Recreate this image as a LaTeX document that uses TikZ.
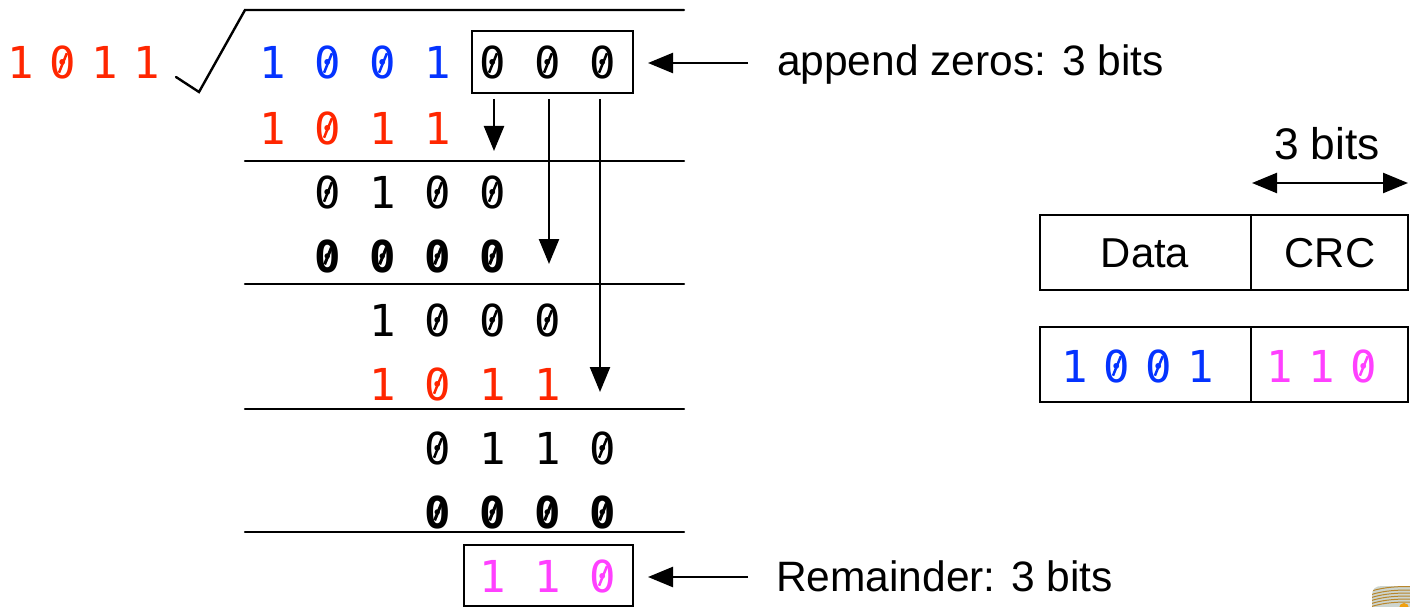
\documentclass[tikz,border=0pt]{standalone}
\usepackage{fontspec}
\setmainfont{Liberation Sans}
\newfontfamily\bitfont{DejaVu Sans Mono}
\usetikzlibrary{arrows.meta}
\definecolor{bitred}{HTML}{FF2600}
\definecolor{bitblue}{HTML}{0433FF}
\definecolor{bitpink}{HTML}{FF40FF}
\definecolor{iconbg}{HTML}{CDD5CF}
\definecolor{iconline}{HTML}{B8862B}
\definecolor{iconsun}{HTML}{F0A010}
% zero with a full slash through its counter, as in the reference's typeface
\newcommand\zs{\leavevmode\rlap{\hspace{13.25pt}\makebox[0pt][c]{\raisebox{16pt}{\smash{\rotatebox[origin=c]{68}{\rule[-1.25pt]{21pt}{2.5pt}}}}}}0}
\newcommand\zb{\leavevmode\rlap{\hspace{13.25pt}\makebox[0pt][c]{\raisebox{16pt}{\smash{\rotatebox[origin=c]{68}{\rule[-1.5pt]{18pt}{3pt}}}}}}0}
\tikzset{
  x=1pt,y=-1pt,
  bits/.style={inner sep=0pt,outer sep=0pt,anchor=base west,font=\fontsize{44}{46}\bitfont,execute at begin node={\spaceskip=28.5pt\relax}},
  boldbits/.style={bits,font=\fontsize{44}{46}\bitfont\bfseries},
  tightbits/.style={bits,execute at begin node={\spaceskip=15.4pt\relax}},
  label/.style={inner sep=0pt,outer sep=0pt,anchor=base west,font=\fontsize{42.5}{44}\selectfont},
  rule/.style={line width=2.4pt,line cap=round},
  frame/.style={draw,line width=2.4pt,inner sep=0pt,outer sep=0pt,anchor=north west},
  pointer/.style={line width=2.4pt,-{Triangle[length=25pt,width=20pt]}},
  twoway/.style={line width=2.4pt,{Triangle[length=25pt,width=20pt]}-{Triangle[length=25pt,width=20pt]}}
}
\begin{document}
\begin{tikzpicture}
\useasboundingbox (0,0) rectangle (1410,607);
% divisor and division sign
\node[tightbits,text=bitred] (divisor) at (7.75,79) {1 \zs{} 1 1};
\coordinate (sa) at (176,77);
\coordinate (sb) at (199,92);
\coordinate (sc) at (245,10);
\coordinate (sd) at (684,10);
\draw[rule,line join=miter] (sa) -- (sb) -- (sc) -- (sd);
% rows
\node[bits,text=bitblue] (r1) at (259.75,79) {1 \zs{} \zs{} 1};
\node[bits] (r1z) at (479.75,79) {\zs{} \zs{} \zs};
\node[bits,text=bitred] (r2) at (259.75,144) {1 \zs{} 1 1};
\node[bits] (r3) at (314.75,208) {\zs{} 1 \zs{} \zs};
\node[boldbits] (r4) at (314.75,272) {\zb{} \zb{} \zb{} \zb};
\node[bits] (r5) at (369.75,336) {1 \zs{} \zs{} \zs};
\node[bits,text=bitred] (r6) at (369.75,400) {1 \zs{} 1 1};
\node[bits] (r7) at (424.75,464) {\zs{} 1 1 \zs};
\node[boldbits] (r8) at (424.75,528) {\zb{} \zb{} \zb{} \zb};
\node[bits,text=bitpink] (r9) at (479.75,592) {1 1 \zs};
% rules
\foreach \n/\y in {a/161,b/284,c/409,d/532}{
  \coordinate (l\n) at (245,\y);
  \coordinate (m\n) at (684,\y);
  \draw[rule] (l\n) -- (m\n);
}
% boxes
\node[frame,minimum width=161pt,minimum height=62pt] (zbox) at (472,31) {};
\node[frame,minimum width=169pt,minimum height=61pt] (rbox) at (464,545) {};
% down arrows
\coordinate (a1s) at (494,99); \coordinate (a1e) at (494,151);
\coordinate (a2s) at (549,99); \coordinate (a2e) at (549,264);
\coordinate (a3s) at (600,99); \coordinate (a3e) at (600,392);
\draw[pointer] (a1s) -- (a1e);
\draw[pointer] (a2s) -- (a2e);
\draw[pointer] (a3s) -- (a3e);
% labels and their arrows
\node[label] (lz) at (777,76) {append zeros: 3 bits};
\node[label] (lr) at (776,591) {Remainder: 3 bits};
\coordinate (pz) at (748,63); \coordinate (pze) at (648,63);
\coordinate (pr) at (748,577); \coordinate (pre) at (648,577);
\draw[pointer] (pz) -- (pze);
\draw[pointer] (pr) -- (pre);
% frame layout
\node[label,font=\fontsize{44.3}{46}\selectfont] (three) at (1274,159) {3 bits};
\coordinate (wl) at (1252,183); \coordinate (wr) at (1408,183);
\draw[twoway] (wl) -- (wr);
\node[frame,minimum width=211pt,minimum height=75pt] (data) at (1040,215) {};
\node[frame,minimum width=157pt,minimum height=75pt] (crc) at (1251,215) {};
\node[frame,minimum width=211pt,minimum height=75pt] (dbits) at (1040,327) {};
\node[frame,minimum width=157pt,minimum height=75pt] (cbits) at (1251,327) {};
\node[label,anchor=center,font=\fontsize{41.8}{44}\selectfont] at (1145,253) {Data};
\node[label,anchor=center,font=\fontsize{41.8}{44}\selectfont] at (1330,253) {CRC};
\node[tightbits,text=bitblue] (v1) at (1061.75,382) {1 \zs{} \zs{} 1};
\node[tightbits,text=bitpink] (v2) at (1266.75,382) {1 1 \zs};
% corner icon
\begin{scope}
\clip (1372,607) -- (1372,596) .. controls (1372,589) and (1375,586) .. (1382,586) -- (1410,586) -- (1410,607) -- cycle;
\fill[iconbg] (1372,586) rectangle (1410,607);
\foreach \y in {586.5,590,593,596,599,602}{
  \draw[iconline,line width=1pt] (1370,\y+5) .. controls (1385,\y) and (1400,\y) .. (1412,\y);
}
\fill[iconsun] (1404,608) circle (5);
\end{scope}
\end{tikzpicture}
\end{document}
